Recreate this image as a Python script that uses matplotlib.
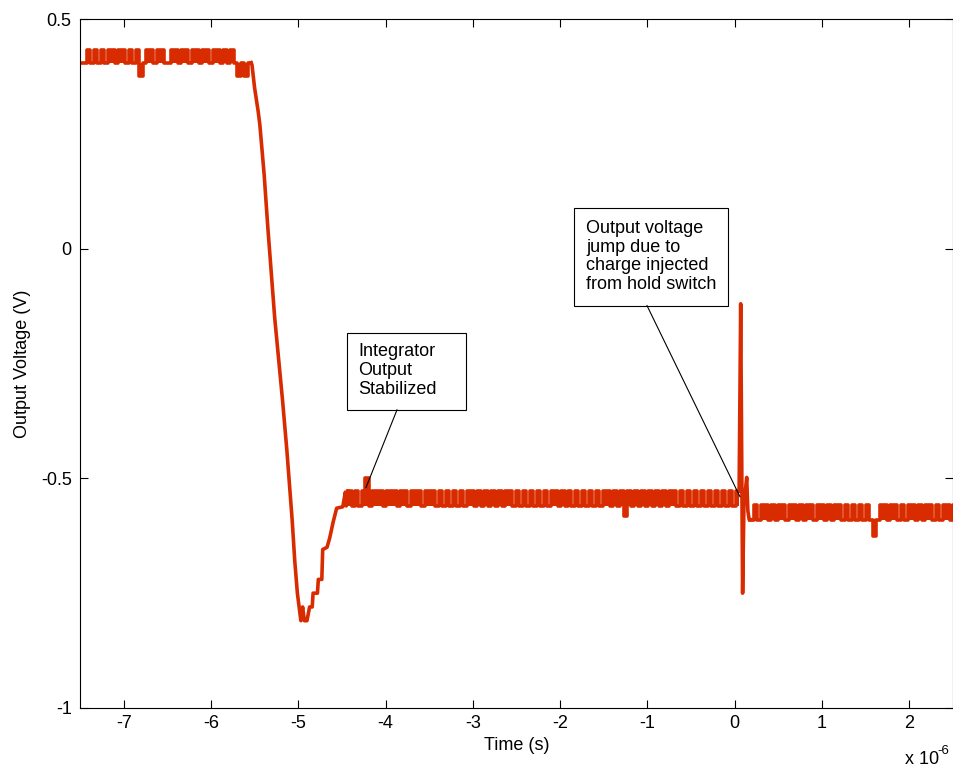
import numpy as np
import matplotlib
matplotlib.use("Agg")
import matplotlib.pyplot as plt
from matplotlib.patches import Rectangle

plt.rcParams['font.family'] = ['Liberation Sans', 'DejaVu Sans']
plt.rcParams['axes.unicode_minus'] = False

# --- data (time in microseconds, volts) ---
DT = 0.04

# pre-trigger plateau: L = base, H = upper code, D = glitch down
pre_t0 = -7.5
pre_codes = "LLHLHLHL" "HHLHHLHL" "HDLHHLHH" "LLHHLHHL" "HHLHHLHH" "LHLHLDLDL"
pre_levels = {'L': 0.405, 'H': 0.432, 'D': 0.375}

# falling edge, undershoot and recovery
fall_t = [-5.53, -5.50, -5.46, -5.44, -5.415, -5.39, -5.37, -5.35, -5.32, -5.27,
          -5.18, -5.13, -5.07, -5.04, -5.01, -4.99, -4.97, -4.95, -4.93, -4.90,
          -4.87, -4.84, -4.83, -4.78, -4.77, -4.73, -4.72, -4.67, -4.64, -4.60,
          -4.56, -4.49, -4.46, -4.45]
fall_v = [0.40, 0.35, 0.30, 0.27, 0.215, 0.16, 0.105, 0.05, -0.025, -0.15,
          -0.33, -0.44, -0.59, -0.68, -0.75, -0.78, -0.81, -0.78, -0.81, -0.81,
          -0.78, -0.78, -0.75, -0.75, -0.72, -0.72, -0.655, -0.65, -0.63, -0.595,
          -0.565, -0.562, -0.53, -0.56]

# stabilised integrator output
mid_t0 = -4.43
mid_codes = ("HLHLHSLHHH" "LHHHLHHLHH" "HLHHHLHLHL" "HLHLHHLHLH" "LHLHLHHLHL"
             "HLHLHLHLHH" "LHLHLHLHLH" "LHLHHLHLHD" "HLHLHLHLHL" "HLHHLHLHLH"
             "LHLHLHLHLHLH")
mid_levels = {'H': -0.528, 'L': -0.561, 'S': -0.500, 'D': -0.582}

# hold-switch charge injection
jump_t = [0.068, 0.09, 0.105, 0.12, 0.137, 0.15, 0.165]
jump_v = [-0.12, -0.75, -0.56, -0.53, -0.498, -0.57, -0.59]

# after the hold switch
post_t0 = 0.18
post_codes = ("LHLHHLHLHH" "LHHLHLHHLH" "HLHLHHLHLH" "LHLHLDLHHL" "HHLHLHHLHL"
              "HHLHLHHLH")
post_levels = {'H': -0.557, 'L': -0.590, 'D': -0.625}

# annotation boxes (data coords: t0, t1, v_bottom, v_top) and leader lines
box1 = (-4.442, -3.078, -0.351, -0.183)
lead1 = ((-3.869, -0.351), (-4.224, -0.520))
box2 = (-1.841, -0.077, -0.124, 0.089)
lead2 = ((-1.005, -0.124), (0.060, -0.540))


def plateau(t0, codes, levels):
    t = t0 + DT * np.arange(len(codes))
    v = np.array([levels[c] for c in codes])
    return t, v


t1, v1 = plateau(pre_t0, pre_codes, pre_levels)
t3, v3 = plateau(mid_t0, mid_codes, mid_levels)
t5, v5 = plateau(post_t0, post_codes, post_levels)

fig = plt.figure(figsize=(9.54, 7.68), dpi=100)
ax = fig.add_axes([80 / 954, 1 - 708 / 768, 873 / 954, 689 / 768])

col = '#d92b00'
lw = 2.6
# noisy plateaus: fast toggling between the two codes shows as a solid band
for tp, vp, lv in ((t1, v1, pre_levels), (t3, v3, mid_levels),
                   (t5, v5, post_levels)):
    te = np.r_[tp, tp[-1] + DT]
    ve = np.r_[vp, vp[-1]]
    ax.fill_between(te, lv['L'], ve, step='post', color=col, lw=0)
    ax.plot(te, ve, color=col, lw=lw, drawstyle='steps-post')

ax.plot(np.r_[t1[-1] + DT, fall_t, t3[0]], np.r_[v1[-1], fall_v, v3[0]],
        color=col, lw=lw)
ax.plot(np.r_[t3[-1] + DT, jump_t, t5[0]], np.r_[v3[-1], jump_v, v5[0]],
        color=col, lw=lw)

ax.set_xlim(-7.5, 2.5)
ax.set_ylim(-1, 0.5)
ax.set_xticks(range(-7, 3))
ax.set_xticklabels([str(k) for k in range(-7, 3)])
ax.set_yticks([-1, -0.5, 0, 0.5])
ax.set_yticklabels(['-1', '-0.5', '0', '0.5'])
ax.tick_params(direction='in', top=True, right=True, length=6, width=0.8,
               labelsize=13)
ax.tick_params(axis='x', pad=5)
ax.tick_params(axis='y', pad=6)
for s in ax.spines.values():
    s.set_linewidth(0.8)

ax.set_xlabel('Time (s)', fontsize=13, labelpad=4)
ax.set_ylabel('Output Voltage (V)', fontsize=13, labelpad=7)

fig.text(905 / 954, 1 - 760 / 768, 'x 10', fontsize=13, ha='left', va='center')
fig.text(937 / 954, 1 - 751 / 768, '-6', fontsize=9.5, ha='left', va='center')

for (x0, x1, y0, y1) in (box1, box2):
    ax.add_patch(Rectangle((x0, y0), x1 - x0, y1 - y0, fc='white',
                           ec='black', lw=0.8, zorder=4))
for (start, end) in (lead1, lead2):
    ax.plot([start[0], end[0]], [start[1], end[1]], color='black', lw=0.8,
            zorder=4)

ax.text(-4.316, -0.266, 'Integrator\nOutput\nStabilized', fontsize=13,
        ha='left', va='center', linespacing=1.15, zorder=5)
ax.text(-1.704, -0.017,
        'Output voltage\njump due to\ncharge injected\nfrom hold switch',
        fontsize=13, ha='left', va='center', linespacing=1.15, zorder=5)

fig.savefig('out.png', dpi=100)
